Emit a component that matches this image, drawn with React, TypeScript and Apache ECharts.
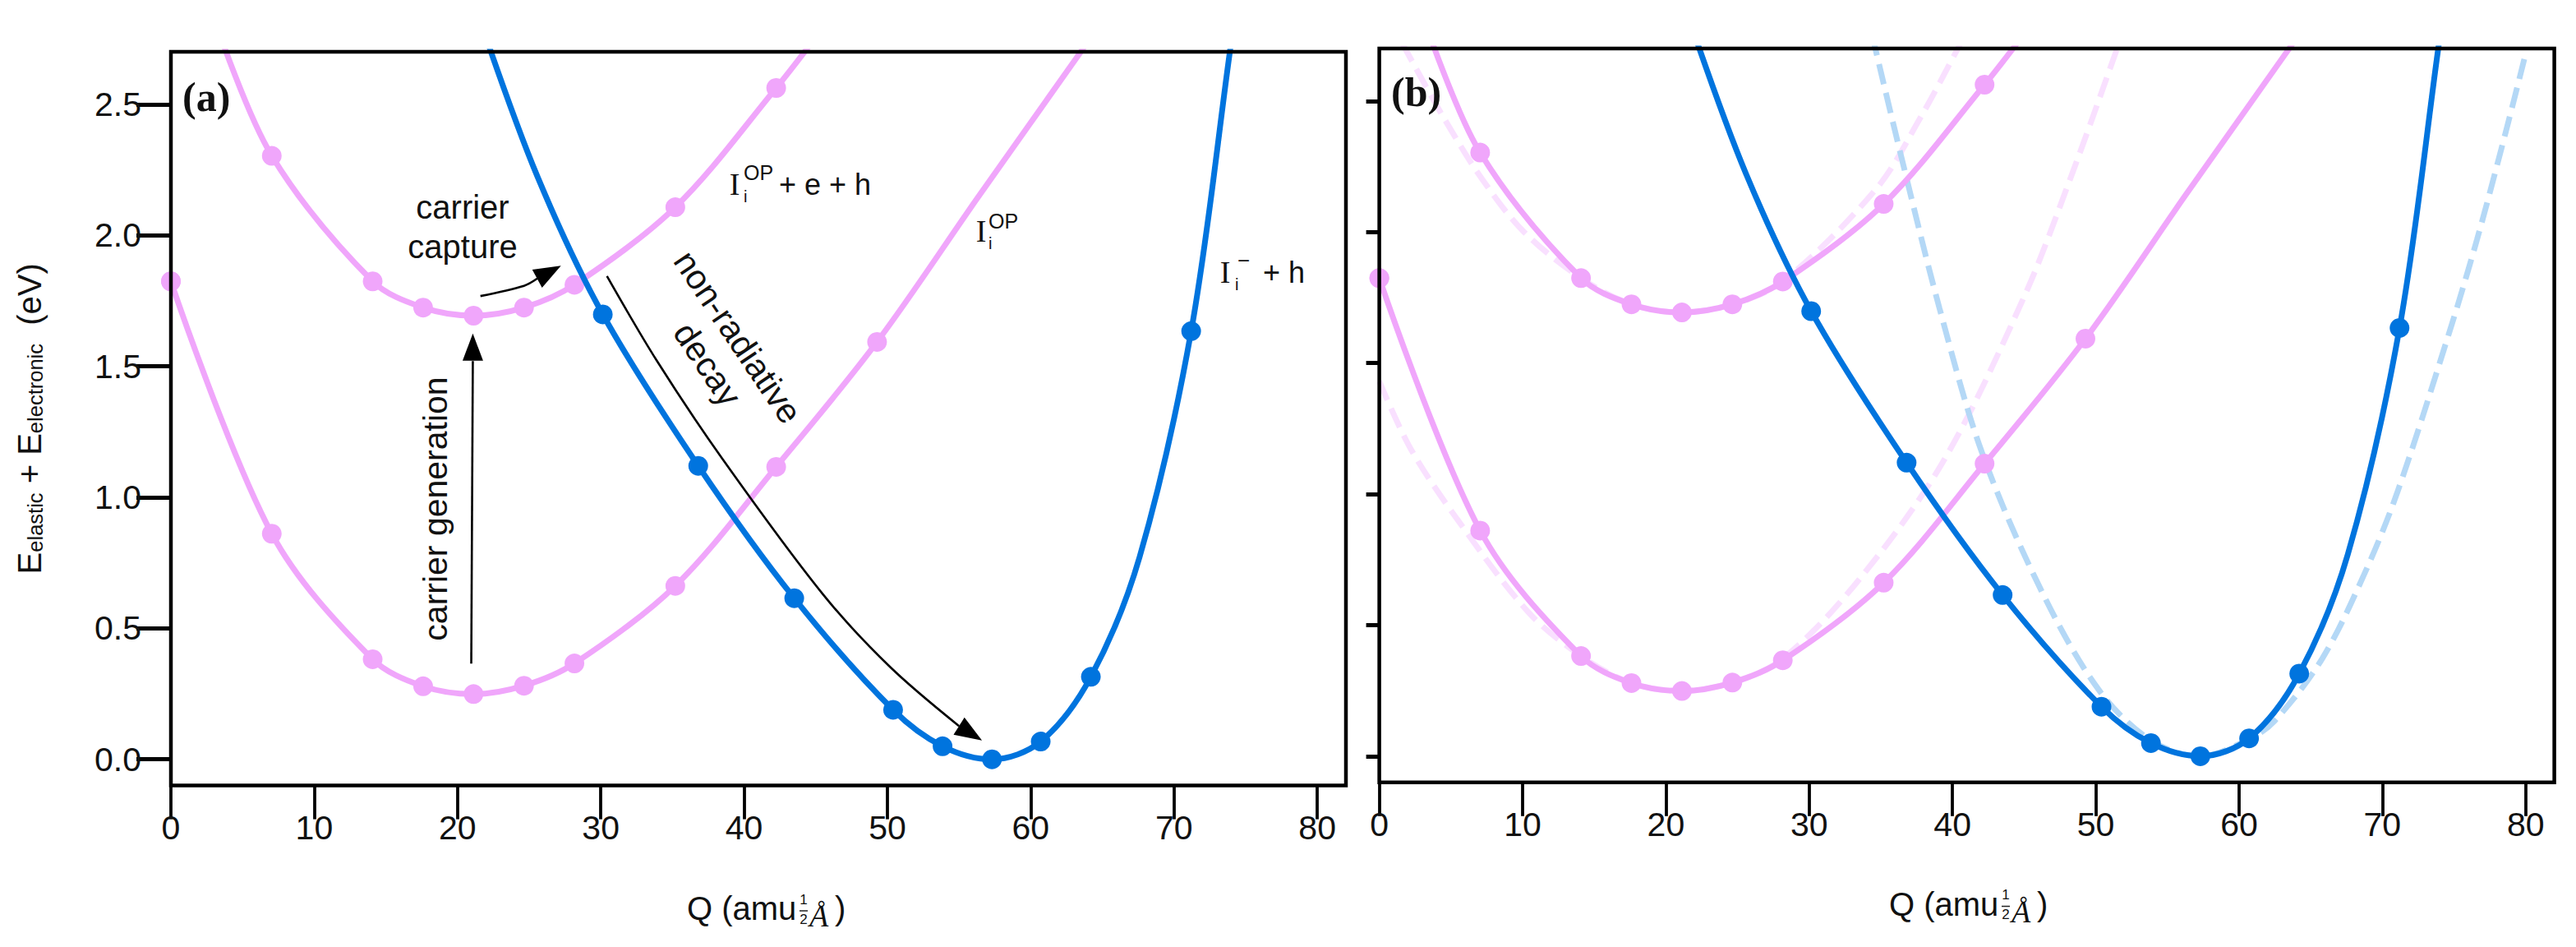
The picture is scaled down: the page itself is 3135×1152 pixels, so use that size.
import React, { useEffect, useRef } from "react";
import * as echarts from "echarts";

const xTicks = [0, 10, 20, 30, 40, 50, 60, 70, 80];
const yTicks = [0, 0.5, 1, 1.5, 2, 2.5];

const upperMarkers = [[0, 1.824], [7.04, 2.303], [14.08, 1.824], [17.6, 1.724], [21.12, 1.693], [24.64, 1.724], [28.16, 1.811], [35.2, 2.107], [42.24, 2.562]];
const lowerMarkers = [[0, 1.824], [7.04, 0.861], [14.08, 0.382], [17.6, 0.279], [21.12, 0.249], [24.64, 0.281], [28.16, 0.366], [35.2, 0.662], [42.24, 1.116], [49.28, 1.593]];
const blueMarkers = [[30.14, 1.698], [36.8, 1.12], [43.5, 0.615], [50.4, 0.189], [53.85, 0.05], [57.3, 0], [60.7, 0.068], [64.2, 0.315], [71.2, 1.634]];

const upperCurve = [[3.2, 2.8], [7.04, 2.303], [14.08, 1.824], [17.6, 1.724], [21.12, 1.693], [24.64, 1.724], [28.16, 1.811], [35.2, 2.107], [42.24, 2.562], [45.2, 2.77]];
const lowerCurve = [[0, 1.824], [7.04, 0.861], [14.08, 0.382], [17.6, 0.279], [21.12, 0.249], [24.64, 0.281], [28.16, 0.366], [35.2, 0.662], [42.24, 1.116], [49.28, 1.593], [56.3, 2.143], [63.5, 2.7], [65, 2.82]];
const blueCurve = [[21.7, 2.8], [25.6, 2.221], [30.14, 1.698], [36.8, 1.12], [43.5, 0.615], [50.4, 0.189], [53.85, 0.05], [57.3, 0], [60.7, 0.068], [64.2, 0.315], [67.6, 0.772], [71.2, 1.634], [73.9, 2.7], [74.6, 2.98]];

const dashUpper = [[1.6, 2.72], [4.56, 2.43], [7.2, 2.2], [10.1, 2.0], [14.08, 1.824], [17.6, 1.724], [21.12, 1.693], [24.64, 1.724], [28.16, 1.811], [34.7, 2.166], [37.7, 2.43], [40.57, 2.72], [41.2, 2.79]];
const dashLower = [[0, 1.43], [2.2, 1.172], [5.44, 0.904], [10.4, 0.55], [14.08, 0.382], [17.6, 0.279], [21.12, 0.249], [24.64, 0.281], [28.16, 0.372], [33.5, 0.675], [39.4, 1.129], [45, 1.753], [48.2, 2.2], [51.4, 2.686], [51.9, 2.77]];
const dashBlue = [[34.4, 2.75], [36.46, 2.28], [39.1, 1.708], [42.05, 1.16], [46.2, 0.632], [50.2, 0.254], [53.85, 0.06], [57.3, 0], [60.7, 0.065], [62.5, 0.136], [65.8, 0.372], [68.7, 0.69], [71, 1.0], [74.5, 1.587], [76.6, 1.97], [78.6, 2.379], [80, 2.68]];

const generationArrow = [[20.96, 0.365], [21.07, 1.52]];
const captureArrow = [[21.6, 1.768], [24.64, 1.807], [25.57, 1.835]];
const decayArrow = [[30.43, 1.844], [33.9, 1.522], [38.47, 1.148], [45.5, 0.63], [50.2, 0.352], [55, 0.127]];
const arrowHeads = [
  { value: [21.07, 1.573], symbolRotate: 0 },
  { value: [26.39, 1.859], symbolRotate: -61.5 },
  { value: [55.8, 0.0996], symbolRotate: -122 },
];

const PINK = "#f0a6fb";
const BLUE = "#0074de";
const PINK_DASH = "#f9e0ff";
const BLUE_DASH = "#b4d8f6";
const SANS = '"Liberation Sans", Arial, sans-serif';
const SERIF = '"Liberation Serif", "Times New Roman", serif';

function curve(data: number[][], color: string, idx: number, z: number, dashed = false) {
  return {
    type: "line", data, xAxisIndex: idx, yAxisIndex: idx, smooth: 0.33, showSymbol: false, clip: true, z,
    lineStyle: { color, width: 7, ...(dashed ? { type: [25, 11], cap: "butt" } : {}) },
    silent: true,
  };
}
function dots(data: number[][], color: string, idx: number, z: number) {
  return { type: "scatter", data, xAxisIndex: idx, yAxisIndex: idx, symbol: "circle", symbolSize: 24, clip: true, z, itemStyle: { color, opacity: 1 }, silent: true };
}
function arrow(data: number[][]) {
  return { type: "line", data, xAxisIndex: 0, yAxisIndex: 0, smooth: 0.33, showSymbol: false, z: 6, lineStyle: { color: "#000", width: 2.6 }, silent: true };
}

function txt(text: string, x: number, y: number, fontSize: number, o: any = {}) {
  return {
    type: "text", x, y, z: 20, rotation: o.rotation || 0,
    style: {
      text, fontSize, fill: "#111", fontFamily: o.family || SANS, fontWeight: o.weight || "normal", fontStyle: o.style || "normal",
      textAlign: o.align || "left", textVerticalAlign: o.valign || "middle",
    },
  };
}
function stateName(ix: number, iy: number, sup: string, supDx: number, supDy: number) {
  return [
    txt("I", ix, iy, 38, { family: SERIF, align: "center" }),
    txt(sup, ix + supDx, iy + supDy, sup === "OP" ? 25 : 26, {}),
    txt("i", ix + supDx - (sup === "OP" ? 0 : 3), iy + 15, 20, {}),
  ];
}
function qLabel(dx: number, dy: number) {
  return [
    txt("Q (amu", 836 + dx, 1125 + dy, 40, { valign: "bottom" }),
    txt("1", 978 + dx, 1094 + dy, 17, { align: "center" }),
    { type: "line", z: 20, shape: { x1: 973 + dx, y1: 1108 + dy, x2: 983 + dx, y2: 1108 + dy }, style: { stroke: "#222", lineWidth: 1.5 } },
    txt("2", 978 + dx, 1118 + dy, 17, { align: "center" }),
    txt("Å", 985 + dx, 1114 + dy, 38, { family: SERIF, style: "italic" }),
    txt(")", 1016 + dx, 1125 + dy, 40, { valign: "bottom" }),
  ];
}

const axisLabelBase = { color: "#111", fontFamily: SANS, fontSize: 41 };

function xAxis(gridIndex: number) {
  return {
    type: "value", gridIndex, min: 0, max: 82,
    axisLine: { show: false, onZero: false }, splitLine: { show: false },
    axisTick: { show: true, length: 41, customValues: xTicks, lineStyle: { color: "#000", width: 3.8 } },
    axisLabel: { ...axisLabelBase, margin: 31, customValues: xTicks, formatter: (v: number) => String(v), showMinLabel: true, showMaxLabel: true },
  };
}
function yAxis(gridIndex: number, labelled: boolean) {
  return {
    type: "value", gridIndex, min: -0.1, max: 2.7,
    axisLine: { show: false, onZero: false }, splitLine: { show: false },
    axisTick: { show: true, length: labelled ? 42 : 16, customValues: yTicks, lineStyle: { color: "#000", width: 5 } },
    axisLabel: { ...axisLabelBase, show: labelled, margin: 36, customValues: yTicks, formatter: (v: number) => v.toFixed(1) },
    ...(labelled
      ? {
          name: "{e|E}{s|elastic}{e| + E}{s|electronic}{e|  (eV)}",
          nameLocation: "middle", nameRotate: 90, nameGap: 152,
          nameTextStyle: {
            color: "#111", fontFamily: SANS, fontSize: 40,
            rich: {
              e: { fontSize: 40, fontFamily: SANS, color: "#111", verticalAlign: "bottom", lineHeight: 44 },
              s: { fontSize: 25.5, fontFamily: SANS, color: "#111", verticalAlign: "bottom", lineHeight: 40 },
            },
          },
        }
      : {}),
  };
}

export default function App() {
  const ref = useRef<HTMLDivElement>(null);
  useEffect(() => {
    const chart = echarts.init(ref.current!, undefined, { renderer: "svg" });
    const gridStyle = { show: true, z: 10, borderColor: "#000", borderWidth: 4.5, backgroundColor: "transparent" };
    chart.setOption({
      animation: false,
      backgroundColor: "#fff",
      grid: [
        { ...gridStyle, left: 208, top: 63, width: 1430, height: 892.6 },
        { ...gridStyle, left: 1678.6, top: 59, width: 1430, height: 892.8 },
      ],
      xAxis: [xAxis(0), xAxis(1)],
      yAxis: [yAxis(0, true), yAxis(1, false)],
      series: [
        curve(upperCurve, PINK, 0, 2), curve(lowerCurve, PINK, 0, 2), dots(upperMarkers, PINK, 0, 3), dots(lowerMarkers, PINK, 0, 3),
        curve(blueCurve, BLUE, 0, 4), dots(blueMarkers, BLUE, 0, 5),
        arrow(generationArrow), arrow(captureArrow), arrow(decayArrow),
        { type: "scatter", data: arrowHeads, xAxisIndex: 0, yAxisIndex: 0, symbol: "triangle", symbolSize: [25, 33], z: 7, itemStyle: { color: "#000", opacity: 1 }, silent: true },

        curve(dashUpper, PINK_DASH, 1, 1, true), curve(dashLower, PINK_DASH, 1, 1, true), curve(dashBlue, BLUE_DASH, 1, 1, true),
        curve(upperCurve, PINK, 1, 2), curve(lowerCurve, PINK, 1, 2), dots(upperMarkers, PINK, 1, 3), dots(lowerMarkers, PINK, 1, 3),
        curve(blueCurve, BLUE, 1, 4), dots(blueMarkers, BLUE, 1, 5),
      ],
      graphic: [
        txt("(a)", 222, 118, 50, { family: SERIF, weight: "bold" }),
        txt("(b)", 1693, 112, 50, { family: SERIF, weight: "bold" }),
        txt("carrier", 563, 252, 40, { align: "center" }),
        txt("capture", 563, 300, 40, { align: "center" }),
        txt("carrier generation", 530, 619, 41, { align: "center", rotation: Math.PI / 2 }),
        txt("non-radiative", 898, 410, 42, { align: "center", rotation: (-56 * Math.PI) / 180 }),
        txt("decay", 861, 443, 42, { align: "center", rotation: (-56 * Math.PI) / 180 }),
        ...stateName(894, 224, "OP", 11, -14),
        txt("+ e + h", 948, 224, 36),
        ...stateName(1194, 281, "OP", 9, -12),
        ...stateName(1491, 331, "\u2212", 15, -14),
        txt("+ h", 1537, 331, 36),
        ...qLabel(0, 0),
        ...qLabel(1463, -5.5),
      ],
    });
    return () => chart.dispose();
  }, []);
  return <div ref={ref} style={{ position: "fixed", left: 0, top: 0, width: 3135, height: 1152, background: "#fff" }} />;
}
